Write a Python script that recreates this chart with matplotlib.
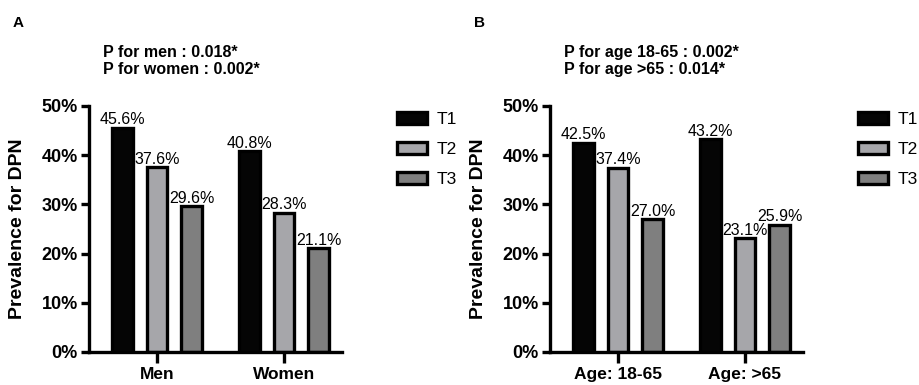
import matplotlib
matplotlib.use("Agg")
import matplotlib.pyplot as plt
import numpy as np
from matplotlib.patches import Patch

plt.rcParams['font.family'] = ['Liberation Sans', 'DejaVu Sans']

groupes_A = ["Men", "Women"]
T1_A = [45.6, 40.8]
T2_A = [37.6, 28.3]
T3_A = [29.6, 21.1]
p_A = "P for men : 0.018*\nP for women : 0.002*"

groupes_B = ["Age: 18-65", "Age: >65"]
T1_B = [42.5, 43.2]
T2_B = [37.4, 23.1]
T3_B = [27.0, 25.9]
p_B = "P for age 18-65 : 0.002*\nP for age >65 : 0.014*"

series = ["T1", "T2", "T3"]
couleurs = ["#050505", "#a6a6aa", "#7f7f7f"]
yticks = [0, 10, 20, 30, 40, 50]

W, H = 920, 385
fig = plt.figure(figsize=(9.2, 3.85), dpi=100)


def panneau(x0, groupes, t1, t2, t3, ptexte, lettre, leg_x):
    ax = fig.add_axes([x0 / W, (H - 352) / H, 253 / W, 246 / H])
    x = np.arange(len(groupes))
    largeur = 0.16
    decal = 0.272
    for k, vals in enumerate([t1, t2, t3]):
        pos = x + (k - 1) * decal
        ax.bar(pos, vals, largeur, color=couleurs[k], edgecolor="black", linewidth=2.4)
        for xi, v in zip(pos, vals):
            ax.text(xi, v + 0.1, "%.1f%%" % v, ha="center", va="bottom", fontsize=11.5)
    ax.set_xlim(-0.535, 1.457)
    ax.set_ylim(0, 50)
    ax.set_yticks(yticks)
    ax.set_yticklabels(["%d%%" % t for t in yticks], fontsize=13, fontweight="bold")
    ax.set_xticks(x)
    ax.set_xticklabels(groupes, fontsize=12.5, fontweight="bold")
    ax.tick_params(axis="x", length=8, width=2.4, pad=3)
    ax.tick_params(axis="y", length=6, width=2.4, pad=2)
    for s in ["top", "right"]:
        ax.spines[s].set_visible(False)
    for s in ["left", "bottom"]:
        ax.spines[s].set_linewidth(2.4)
    ax.set_ylabel("Prevalence for DPN", fontsize=14, fontweight="bold")
    ax.yaxis.set_label_coords(-0.25, 0.5)

    fig.text((x0 + 14) / W, 1 - 61 / H, ptexte, fontsize=11.5, fontweight="bold",
             va="center", ha="left", linespacing=1.15)
    fig.text((x0 - 76) / W, 1 - 23 / H, lettre, fontsize=11, fontweight="bold",
             va="center", ha="left")

    handles = [Patch(facecolor=couleurs[k], edgecolor="black", linewidth=2.4, label=series[k])
               for k in range(3)]
    fig.legend(handles=handles, loc="upper left", bbox_to_anchor=(leg_x / W, 1 - 112 / H),
               frameon=False, fontsize=12.5, handlelength=1.75, handleheight=0.7,
               handletextpad=0.55, labelspacing=0.85, borderaxespad=0, borderpad=0)
    return ax


panneau(89, groupes_A, T1_A, T2_A, T3_A, p_A, "A", 397)
panneau(550, groupes_B, T1_B, T2_B, T3_B, p_B, "B", 858)

fig.savefig("out.png", dpi=100)
